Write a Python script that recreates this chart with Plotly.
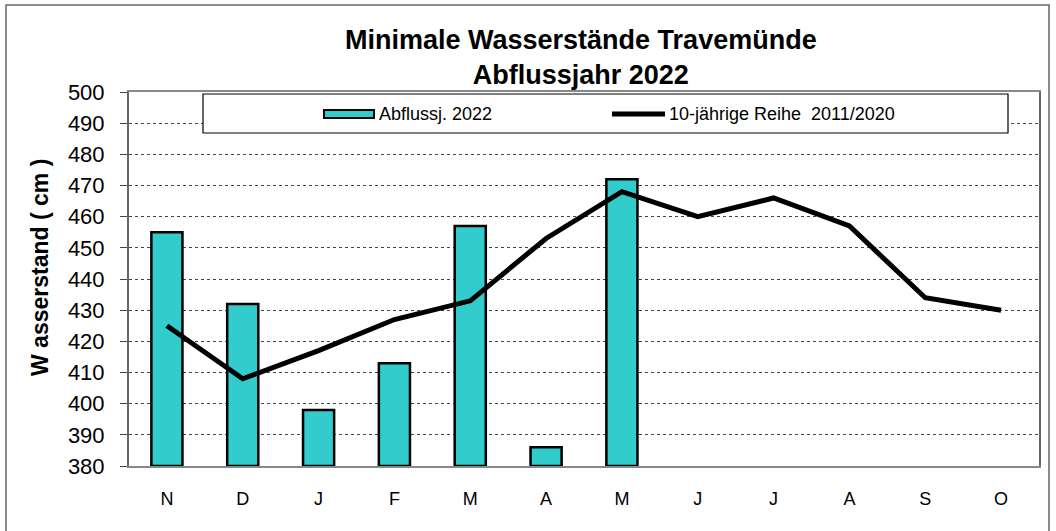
import plotly.graph_objects as go

months = ["N", "D", "J", "F", "M", "A", "M ", "J ", "J  ", "A ", "S", "O"]
tick_labels = ["N", "D", "J", "F", "M", "A", "M", "J", "J", "A", "S", "O"]
abfluss_2022 = [455, 432, 398, 413, 457, 386, 472, None, None, None, None, None]
reihe_2011_2020 = [425, 408, 417, 427, 433, 453, 468, 460, 466, 457, 434, 430]
y_min, y_max = 380, 500

W, H = 1056, 531
L, R, T, B = 129, 17, 92, 65
PW, PH = W - L - R, H - T - B


def px(x):
    return (x - L) / PW


def py(y):
    return (H - B - y) / PH


BAR_COLOR = "#33CCCC"

fig = go.Figure()
fig.add_trace(go.Bar(
    x=months, y=[v - y_min if v is not None else None for v in abfluss_2022], base=y_min,
    name="Abflussj. 2022", width=0.41, showlegend=False,
    marker=dict(color=BAR_COLOR, line=dict(color="black", width=2.5)),
))
fig.add_trace(go.Scatter(
    x=months, y=reihe_2011_2020, mode="lines", name="10-jährige Reihe  2011/2020",
    line=dict(color="black", width=5), showlegend=False,
))

shapes = [
    # legend box
    dict(type="rect", xref="paper", yref="paper", x0=px(203), x1=px(1008), y0=py(133), y1=py(94),
         line=dict(color="black", width=1.2), fillcolor="white", layer="above"),
    # legend keys
    dict(type="rect", xref="paper", yref="paper", x0=px(324), x1=px(374), y0=py(118), y1=py(110),
         line=dict(color="black", width=2), fillcolor=BAR_COLOR, layer="above"),
    dict(type="line", xref="paper", yref="paper", x0=px(612), x1=px(665), y0=py(114), y1=py(114),
         line=dict(color="black", width=5), layer="above"),
    # outer chart border
    dict(type="rect", xref="paper", yref="paper", x0=px(6), x1=px(1049), y0=py(545), y1=py(5),
         line=dict(color="#666666", width=1.5), fillcolor="rgba(0,0,0,0)"),
]

annotations = [
    dict(text="<b>Minimale Wasserstände Travemünde<br>Abflussjahr 2022</b>",
         xref="paper", yref="paper", x=px(581), y=py(57), xanchor="center", yanchor="middle",
         showarrow=False, font=dict(size=27)),
    dict(text="Abflussj. 2022", xref="paper", yref="paper", x=px(377), y=py(114),
         xanchor="left", yanchor="middle", showarrow=False, font=dict(size=18)),
    dict(text="10-jährige Reihe\u00a0\u00a02011/2020", xref="paper", yref="paper", x=px(667), y=py(114),
         xanchor="left", yanchor="middle", showarrow=False, font=dict(size=18)),
    dict(text="<b>W asserstand ( cm )</b>", xref="paper", yref="paper", x=px(40), y=py(268),
         xanchor="center", yanchor="middle", textangle=-90, showarrow=False, font=dict(size=23)),
]

fig.update_layout(
    width=W, height=H,
    margin=dict(l=L, r=R, t=T, b=B),
    paper_bgcolor="white", plot_bgcolor="white",
    font=dict(family="Liberation Sans, Arial, sans-serif", color="black"),
    showlegend=False,
    shapes=shapes,
    annotations=annotations,
)
fig.update_xaxes(
    tickvals=months, ticktext=tick_labels, tickfont=dict(size=18),
    showline=True, linecolor="#888888", linewidth=2, mirror=True,
    ticks="", showgrid=False, ticklabelstandoff=15, automargin=False,
)
fig.update_yaxes(
    range=[y_min, y_max], dtick=10, tickfont=dict(size=22),
    showline=True, linecolor="#666666", linewidth=2, mirror=True,
    ticks="outside", ticklen=7, tickcolor="#444444", ticklabelstandoff=11,
    showgrid=True, gridcolor="#444444", griddash="dot", gridwidth=1,
    automargin=False,
)

fig.write_html(
    "out.html",
    config={"displayModeBar": False},
    post_script="document.body.style.margin='0';document.body.style.overflow='hidden';",
)
